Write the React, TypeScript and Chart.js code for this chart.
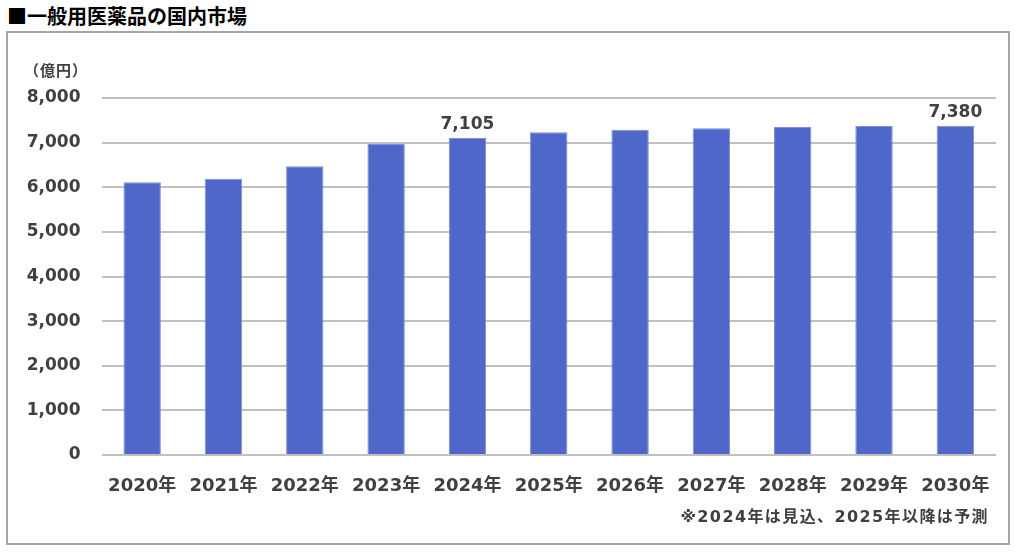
import React, { useEffect, useRef } from "react";
import { Chart, registerables } from "chart.js";

Chart.register(...registerables);

const title = "■一般用医薬品の国内市場";
const unitLabel = "（億円）";
const footnote = "※2024年は見込、2025年以降は予測";
const categories = ["2020年", "2021年", "2022年", "2023年", "2024年", "2025年", "2026年", "2027年", "2028年", "2029年", "2030年"];
const marketValues = [6110, 6190, 6470, 6970, 7105, 7233, 7290, 7320, 7350, 7370, 7380];
const labeledIndexes = [4, 10];
const yTicks = [0, 1000, 2000, 3000, 4000, 5000, 6000, 7000, 8000];

const FONT = '"DejaVu Sans", "Noto Sans CJK JP", sans-serif';
const TEXT = "#404040";

const valueLabelPlugin = {
  id: "valueLabels",
  afterDatasetsDraw(chart: any) {
    const ctx = chart.ctx;
    const meta = chart.getDatasetMeta(0);
    ctx.save();
    ctx.font = `bold 17px ${FONT}`;
    ctx.fillStyle = TEXT;
    ctx.textAlign = "center";
    ctx.textBaseline = "bottom";
    labeledIndexes.forEach((i) => {
      const el = meta.data[i];
      if (!el) return;
      ctx.fillText(marketValues[i].toLocaleString("en-US"), el.x, el.y - 5);
    });
    ctx.restore();
  },
};

export default function App() {
  const ref = useRef<HTMLCanvasElement | null>(null);
  useEffect(() => {
    if (!ref.current) return;
    const chart = new Chart(ref.current, {
      type: "bar",
      data: {
        labels: categories,
        datasets: [
          {
            data: marketValues,
            backgroundColor: "#4E67C8",
            borderColor: "#7C8FDB",
            borderWidth: 1,
            barPercentage: 0.46,
            categoryPercentage: 1,
          },
        ],
      },
      options: {
        responsive: false,
        animation: false,
        layout: { padding: { left: 6.5, right: 28, top: 98, bottom: 40 } },
        plugins: { legend: { display: false }, tooltip: { enabled: false }, title: { display: false } },
        scales: {
          x: {
            grid: { display: false, drawTicks: false },
            border: { display: false },
            ticks: { color: TEXT, font: { family: FONT, size: 18, weight: "bold" }, padding: 21, maxRotation: 0, autoSkip: false },
            afterFit: (s: any) => { s.height = 58; },
          },
          y: {
            min: 0,
            max: 8000,
            afterBuildTicks: (s: any) => { s.ticks = yTicks.map((v) => ({ value: v })); },
            grid: { color: "#C0C0C0", lineWidth: 2, drawTicks: false },
            border: { display: false },
            ticks: {
              color: TEXT,
              font: { family: FONT, size: 17, weight: "bold" },
              padding: 21,
              callback: (v: any) => Number(v).toLocaleString("en-US"),
            },
            afterFit: (s: any) => { s.width = 95; },
          },
        },
      },
      plugins: [valueLabelPlugin],
    });
    return () => chart.destroy();
  }, []);

  return (
    <div style={{ position: "absolute", left: 0, top: 0, width: 1024, height: 553, background: "#fff", overflow: "hidden" }}>
      <div style={{ position: "absolute", left: 7, top: 3, fontFamily: '"Noto Sans CJK JP", sans-serif', fontWeight: 700, fontSize: 20, lineHeight: "26px", color: "#000", whiteSpace: "nowrap" }}>{title}</div>
      <div style={{ position: "absolute", left: 6, top: 31, width: 1000, height: 510, border: "2px solid #A6A6A6" }} />
      <canvas ref={ref} width={1024} height={553} style={{ position: "absolute", left: 0, top: 0 }} />
      <div style={{ position: "absolute", left: 24, top: 60, fontFamily: '"Noto Sans CJK JP", sans-serif', fontWeight: 700, fontSize: 15, letterSpacing: 1, lineHeight: "20px", color: TEXT, whiteSpace: "nowrap" }}>{unitLabel}</div>
      <div style={{ position: "absolute", right: 1024 - 989, top: 506, fontFamily: FONT, fontWeight: 700, fontSize: 16, letterSpacing: 1.4, lineHeight: "22px", color: TEXT, whiteSpace: "nowrap" }}>{footnote}</div>
    </div>
  );
}
